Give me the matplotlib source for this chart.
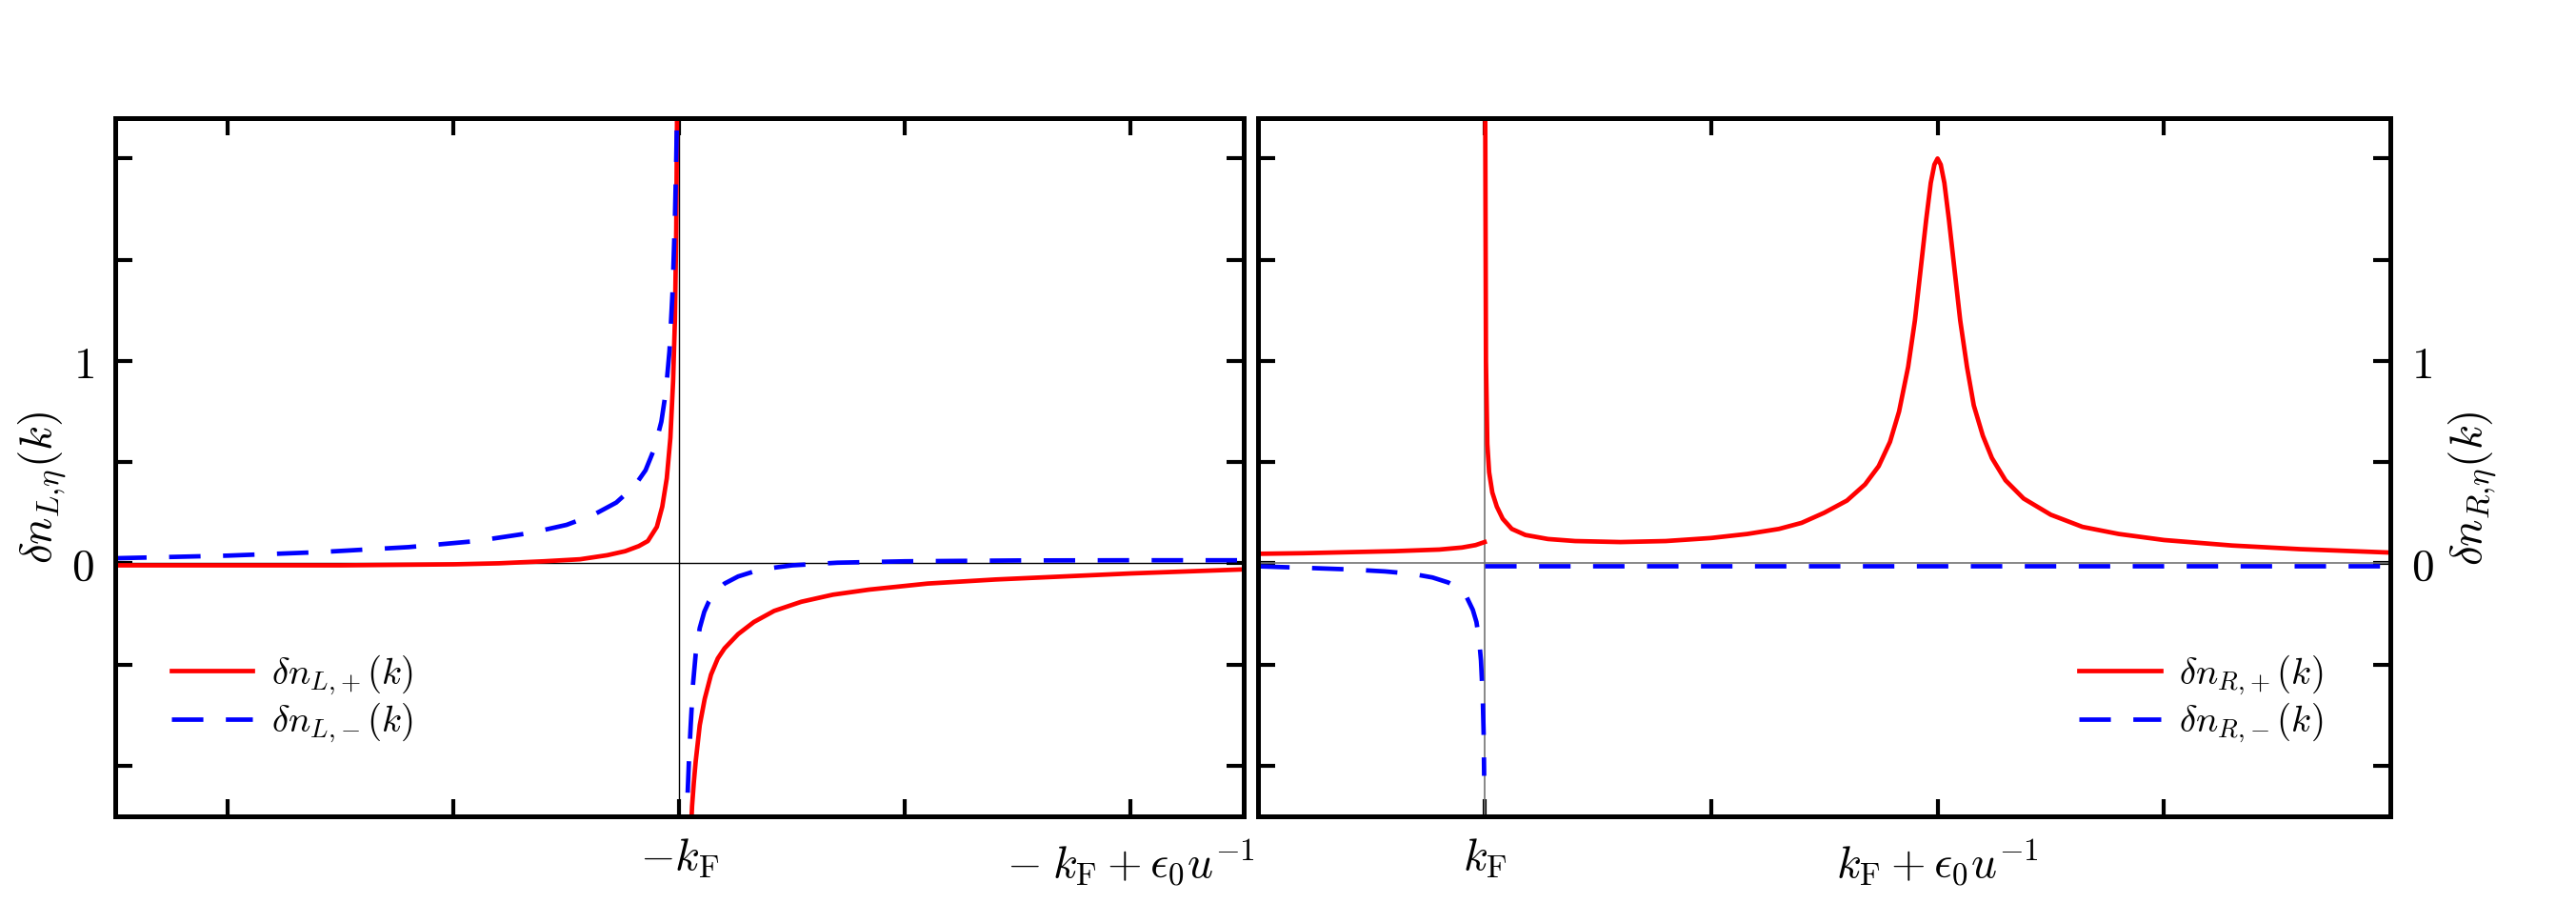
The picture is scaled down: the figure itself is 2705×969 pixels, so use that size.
import matplotlib
matplotlib.use('Agg')
import matplotlib.pyplot as plt

plt.rcParams['mathtext.fontset'] = 'cm'
plt.rcParams['font.family'] = 'DejaVu Serif'

# panel izquierdo: delta n_{L,+}
xLp_a = [-1.25, -1.0, -0.75, -0.5, -0.4, -0.3, -0.22, -0.16, -0.12, -0.09, -0.07, -0.05, -0.038, -0.028, -0.02, -0.014, -0.010, -0.007, -0.005]
yLp_a = [-0.01, -0.01, -0.01, -0.005, 0.0, 0.01, 0.02, 0.04, 0.06, 0.085, 0.11, 0.18, 0.28, 0.42, 0.62, 0.9, 1.2, 1.65, 2.3]
xLp_b = [0.024, 0.028, 0.032, 0.036, 0.045, 0.056, 0.07, 0.085, 0.1, 0.13, 0.165, 0.21, 0.27, 0.34, 0.42, 0.55, 0.7, 0.85, 1.0, 1.25]
yLp_b = [-1.4, -1.2, -1.08, -0.98, -0.8, -0.67, -0.55, -0.47, -0.42, -0.35, -0.29, -0.235, -0.19, -0.155, -0.13, -0.1, -0.08, -0.065, -0.05, -0.03]

# panel izquierdo: delta n_{L,-}
xLm_a = [-1.25, -1.0, -0.8, -0.6, -0.45, -0.33, -0.25, -0.19, -0.14, -0.1, -0.075, -0.055, -0.04, -0.03, -0.022, -0.015, -0.01, -0.007, -0.004]
yLm_a = [0.025, 0.038, 0.055, 0.08, 0.11, 0.15, 0.19, 0.24, 0.3, 0.38, 0.46, 0.57, 0.7, 0.85, 1.05, 1.35, 1.7, 2.0, 2.4]
xLm_b = [0.015, 0.018, 0.021, 0.025, 0.03, 0.036, 0.045, 0.055, 0.065, 0.08, 0.1, 0.13, 0.18, 0.25, 0.35, 0.5, 0.75, 1.0, 1.25]
yLm_b = [-1.4, -1.15, -0.98, -0.8, -0.6, -0.45, -0.32, -0.24, -0.19, -0.14, -0.1, -0.065, -0.03, -0.01, 0.003, 0.01, 0.014, 0.015, 0.015]

# panel derecho: delta n_{R,+}
xRp_a = [-0.5, -0.4, -0.3, -0.2, -0.1, -0.05, -0.02, 0.0]
yRp_a = [0.047, 0.05, 0.055, 0.06, 0.068, 0.078, 0.09, 0.105]
xRp_b = [0.001, 0.003, 0.006, 0.01, 0.017, 0.027, 0.04, 0.06, 0.09, 0.14, 0.2, 0.3, 0.4, 0.5, 0.58, 0.65, 0.7, 0.75, 0.8, 0.84,
         0.87, 0.895, 0.915, 0.935, 0.95, 0.965, 0.975, 0.985, 0.993, 1.0, 1.007, 1.015, 1.025, 1.035, 1.05, 1.065, 1.08, 1.1,
         1.12, 1.15, 1.19, 1.25, 1.32, 1.4, 1.5, 1.65, 1.8, 2.0]
yRp_b = [2.5, 1.0, 0.59, 0.45, 0.35, 0.28, 0.22, 0.17, 0.14, 0.12, 0.11, 0.105, 0.11, 0.125, 0.145, 0.17, 0.2, 0.25, 0.31, 0.39,
         0.48, 0.6, 0.75, 0.97, 1.2, 1.5, 1.7, 1.88, 1.97, 2.0, 1.97, 1.88, 1.7, 1.5, 1.2, 0.97, 0.78, 0.63,
         0.52, 0.41, 0.32, 0.24, 0.18, 0.145, 0.115, 0.088, 0.07, 0.053]

# panel derecho: delta n_{R,-}
xRm_a = [-0.5, -0.4, -0.3, -0.22, -0.16, -0.115, -0.08, -0.06, -0.04, -0.026, -0.018, -0.012, -0.008, -0.004, -0.002, -0.001]
yRm_a = [-0.015, -0.022, -0.03, -0.04, -0.052, -0.07, -0.095, -0.12, -0.165, -0.23, -0.29, -0.38, -0.48, -0.67, -0.85, -1.05]
xRm_b = [0.0, 0.5, 1.0, 1.5, 2.0]
yRm_b = [-0.01, -0.01, -0.01, -0.01, -0.01]

yticks = [-1.0, -0.5, 0.0, 0.5, 1.0, 1.5, 2.0]
ytick_labels = ['', '', '$0$', '', '$1$', '', '']
xticks_L = [-1.0, -0.5, 0.0, 0.5, 1.0]
xtick_labels_L = ['', '', r'$-k_{\rm F}$', '', r'$-\;k_{\rm F}+\epsilon_0 u^{-1}$']
xticks_R = [0.0, 0.5, 1.0, 1.5]
xtick_labels_R = [r'$k_{\rm F}$', '', r'$k_{\rm F}+\epsilon_0 u^{-1}$', '']

lw = 1.7
dash = (7, 5)

fig = plt.figure(figsize=(13.525, 4.845), dpi=200)
ax1 = fig.add_axes([0.0447, 0.1156, 0.4381, 0.7565])
ax2 = fig.add_axes([0.4884, 0.1156, 0.4396, 0.7565])

ax1.axhline(0, color='k', lw=0.5)
ax1.axvline(0, color='k', lw=0.5)
ax1.plot(xLp_a, yLp_a, color='red', lw=lw, label=r'$\delta n_{L,\!+}(k)$')
ax1.plot(xLp_b, yLp_b, color='red', lw=lw)
ax1.plot(xLm_a, yLm_a, color='blue', lw=lw, dashes=dash, label=r'$\delta n_{L,\!-}(k)$')
ax1.plot(xLm_b, yLm_b, color='blue', lw=lw, dashes=dash)
ax1.set_xlim(-1.25, 1.25)

ax2.axhline(0, color='0.45', lw=0.6)
ax2.axvline(0, color='0.45', lw=0.6)
ax2.plot(xRp_a, yRp_a, color='red', lw=lw, label=r'$\delta n_{R,\!+}(k)$')
ax2.plot(xRp_b, yRp_b, color='red', lw=lw)
ax2.plot(xRm_a, yRm_a, color='blue', lw=lw, dashes=dash, label=r'$\delta n_{R,\!-}(k)$')
ax2.plot(xRm_b, yRm_b, color='blue', lw=lw, dashes=dash)
ax2.set_xlim(-0.5, 2.0)

for ax in (ax1, ax2):
    ax.set_ylim(-1.25, 2.2)
    ax.set_yticks(yticks)
    ax.set_yticklabels(ytick_labels)
    ax.tick_params(direction='in', length=6.5, width=1.5, labelsize=17,
                   top=True, right=True, pad=8)
    for s in ax.spines.values():
        s.set_linewidth(1.8)

ax1.set_xticks(xticks_L)
ax1.set_xticklabels(xtick_labels_L)
ax2.set_xticks(xticks_R)
ax2.set_xticklabels(xtick_labels_R)

ax1.set_ylabel(r'$\delta n_{L,\!\eta}(k)$', fontsize=17)
ax1.yaxis.set_label_coords(-0.041, 0.47)
ax2.yaxis.set_label_position('right')
ax2.tick_params(labelleft=False, labelright=True)
ax2.set_ylabel(r'$\delta n_{R,\!\eta}(k)$', fontsize=17)
ax2.yaxis.set_label_coords(1.05, 0.47)

ax1.legend(loc='lower left', bbox_to_anchor=(0.02, 0.054), frameon=False, fontsize=14,
           handlelength=2.2, labelspacing=0.1, handletextpad=0.5)
ax2.legend(loc='lower right', bbox_to_anchor=(0.97, 0.054), frameon=False, fontsize=14,
           handlelength=2.2, labelspacing=0.1, handletextpad=0.5)

plt.savefig('out.png', dpi=200)
